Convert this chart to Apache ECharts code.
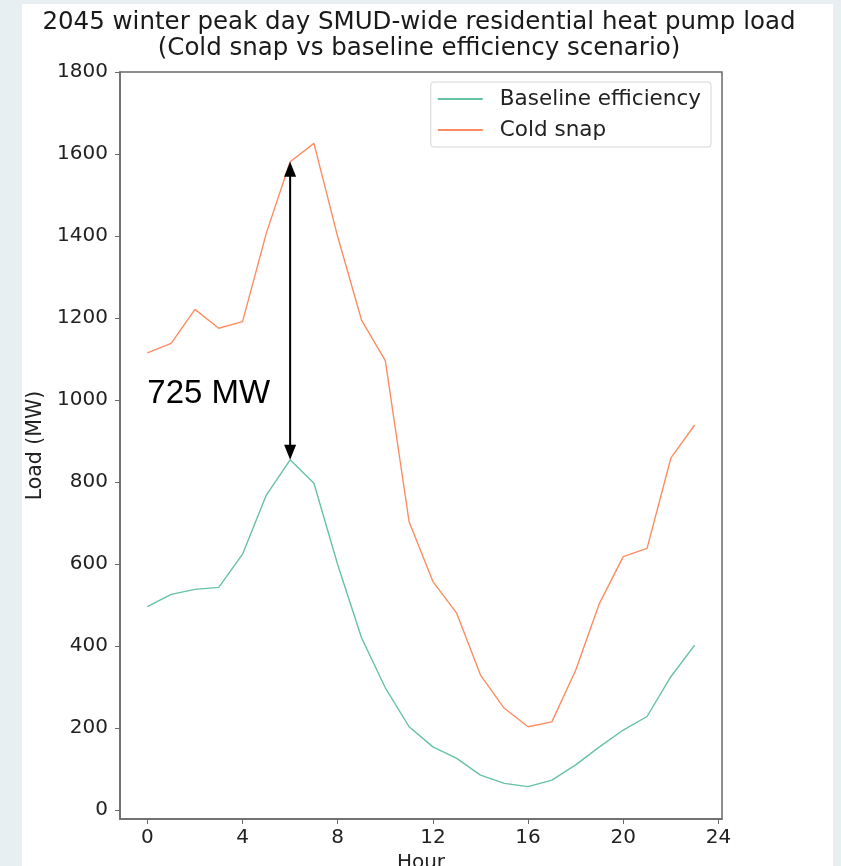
<!DOCTYPE html>
<html>
<head>
<meta charset="utf-8">
<script src="https://cdn.jsdelivr.net/npm/echarts@6/dist/echarts.min.js"></script>
<style>
html,body{margin:0;padding:0;background:#e8eff2;}
#chart{width:841px;height:866px;}
</style>
</head>
<body>
<div id="chart"></div>
<script>
const hours = [0,1,2,3,4,5,6,7,8,9,10,11,12,13,14,15,16,17,18,19,20,21,22,23];
const baseline = [496,526,538,543,624,768,854,797,598,420,298,203,154,126,85,65,57,73,110,154,195,228,325,402];
const coldSnap = [1115,1138,1221,1175,1191,1407,1581,1626,1398,1195,1096,703,557,480,329,248,203,215,341,504,618,638,858,939];
const xTicks = [0,4,8,12,16,20,24];
const yTicks = [0,200,400,600,800,1000,1200,1400,1600,1800];
const arrowHour = 6;
const annotation = {x: 0, y: 1000, text: '725 MW'};

const chart = echarts.init(document.getElementById('chart'), null, {renderer:'canvas'});
const font = 'DejaVu Sans';
const axisColor = '#6a6a6a';
const idx = hours.indexOf(arrowHour);

chart.setOption({
  backgroundColor: '#e8eff2',
  animation: false,
  graphic: [{type:'rect', z:-10, shape:{x:22,y:4,width:811,height:870}, style:{fill:'#ffffff'}}],
  title: {
    text: '2045 winter peak day SMUD-wide residential heat pump load\n(Cold snap vs baseline efficiency scenario)',
    left: 414, top: 5, textAlign: 'center',
    textStyle: {fontFamily: font, fontSize: 24.5, fontWeight: 'normal', color: '#1a1a1a', lineHeight: 26}
  },
  legend: {
    orient: 'vertical', right: 130, top: 82,
    padding: [6, 10, 6, 6],
    itemWidth: 45, itemHeight: 20, itemGap: 9,
    backgroundColor: '#fff', borderColor: '#d6d6d6', borderWidth: 1, borderRadius: 3,
    itemStyle: {opacity: 0},
    textStyle: {fontFamily: font, fontSize: 21.5, color: '#222', padding: [0,0,0,12]},
    data: ['Baseline efficiency', 'Cold snap']
  },
  grid: {left: 120, right: 119, top: 72, bottom: 47, outerBoundsMode: 'none', containLabel: false,
    show: true, borderColor: axisColor, borderWidth: 1.5, backgroundColor: '#fff'},
  xAxis: {
    type: 'value', min: -1.15, max: 24.15,
    name: 'Hour', nameLocation: 'middle', nameGap: 30,
    nameTextStyle: {fontFamily: font, fontSize: 20, color: '#222'},
    axisLine: {show: true, onZero: false, lineStyle: {color: axisColor, width: 1.5}},
    axisTick: {show: true, inside: false, length: 5, customValues: xTicks, lineStyle: {color: axisColor}},
    axisLabel: {customValues: xTicks, fontFamily: font, fontSize: 20, color: '#222', margin: 9, formatter: v => String(v)},
    splitLine: {show: false}
  },
  yAxis: {
    type: 'value', min: -22, max: 1800,
    name: 'Load (MW)', nameLocation: 'middle', nameGap: 58,
    nameTextStyle: {fontFamily: font, fontSize: 20.5, color: '#222'},
    axisLine: {show: true, onZero: false, lineStyle: {color: axisColor, width: 1.5}},
    axisTick: {show: true, inside: false, length: 5, customValues: yTicks, lineStyle: {color: axisColor}},
    axisLabel: {customValues: yTicks, fontFamily: font, fontSize: 20, color: '#222', margin: 12, formatter: v => String(v)},
    splitLine: {show: false}
  },
  series: [
    {
      name: 'Baseline efficiency', type: 'line', symbol: 'none',
      data: hours.map((h, i) => [h, baseline[i]]),
      lineStyle: {color: '#66c2a5', width: 1.4}, itemStyle: {color: '#66c2a5'}
    },
    {
      name: 'Cold snap', type: 'line', symbol: 'none',
      data: hours.map((h, i) => [h, coldSnap[i]]),
      lineStyle: {color: '#fc8d62', width: 1.4}, itemStyle: {color: '#fc8d62'}
    },
    {
      name: 'gap arrow', type: 'custom', silent: true, z: 5,
      data: [[arrowHour, baseline[idx], coldSnap[idx]]],
      encode: {x: 0, y: [1, 2]},
      renderItem: function (params, api) {
        const lo = api.coord([api.value(0), api.value(1)]);
        const hi = api.coord([api.value(0), api.value(2)]);
        const hw = 6, hl = 15;
        return {
          type: 'group',
          children: [
            {type: 'line', shape: {x1: lo[0], y1: lo[1] - hl + 2, x2: hi[0], y2: hi[1] + hl - 2},
              style: {stroke: '#000', lineWidth: 2}},
            {type: 'polygon', shape: {points: [[hi[0], hi[1]], [hi[0] - hw, hi[1] + hl], [hi[0] + hw, hi[1] + hl]]},
              style: {fill: '#000'}},
            {type: 'polygon', shape: {points: [[lo[0], lo[1]], [lo[0] - hw, lo[1] - hl], [lo[0] + hw, lo[1] - hl]]},
              style: {fill: '#000'}}
          ]
        };
      }
    },
    {
      name: 'annotation', type: 'custom', silent: true, z: 5,
      data: [[annotation.x, annotation.y]],
      encode: {x: 0, y: 1},
      renderItem: function (params, api) {
        const p = api.coord([api.value(0), api.value(1)]);
        return {
          type: 'text', x: p[0], y: p[1] - 6,
          style: {text: annotation.text, fill: '#000', font: '33px "Liberation Sans", Arial, sans-serif',
            textAlign: 'left', textVerticalAlign: 'middle'}
        };
      }
    }
  ]
});
</script>
</body>
</html>
